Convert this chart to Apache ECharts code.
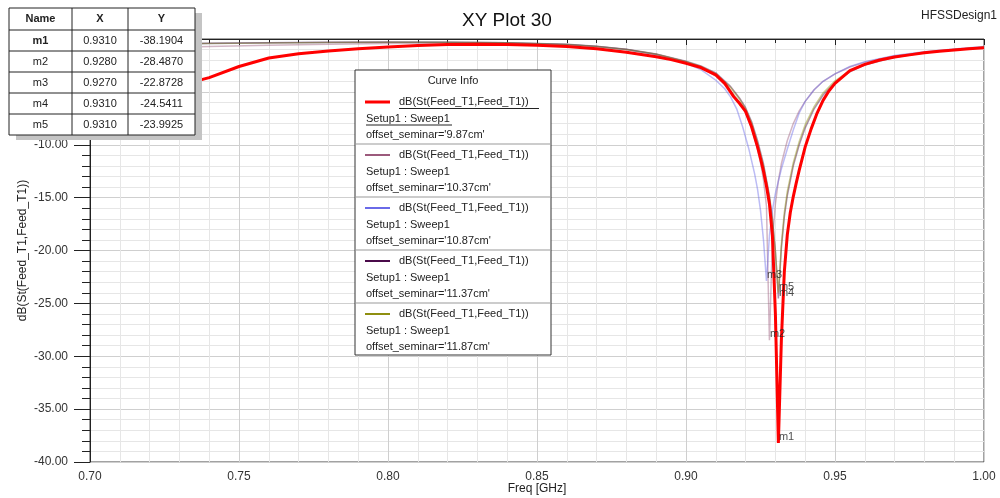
<!DOCTYPE html>
<html>
<head>
<meta charset="utf-8">
<script src="https://cdn.jsdelivr.net/npm/echarts@6/dist/echarts.min.js"></script>
<style>
html,body{margin:0;padding:0;background:#fff;}
#chart{width:1000px;height:498px;}
</style>
</head>
<body>
<div id="chart"></div>
<script>
// ---- Data ----
const seriesLabels = ["offset_seminar='9.87cm'", "offset_seminar='10.37cm'", "offset_seminar='10.87cm'", "offset_seminar='11.37cm'", "offset_seminar='11.87cm'"];
const seriesColors = ["#ff0000", "#9c5a7c", "#6a6ae8", "#4a0a4a", "#8f8f10"];

const freq987 = [0.700,0.710,0.720,0.730,0.740,0.750,0.760,0.770,0.780,0.790,0.800,0.810,0.820,0.830,0.840,0.850,0.860,0.870,0.880,0.890,0.895,0.900,0.905,0.910,0.913,0.916,0.918,0.920,0.922,0.924,0.925,0.926,0.927,0.928,0.929,0.930,0.931,0.932,0.933,0.934,0.935,0.936,0.937,0.938,0.940,0.942,0.944,0.946,0.948,0.950,0.955,0.960,0.965,0.970,0.975,0.980,0.985,0.990,0.995,1.000];
const db987   = [-5.9,-5.3,-4.8,-4.4,-3.65,-2.6,-1.8,-1.4,-1.14,-0.92,-0.76,-0.62,-0.52,-0.5,-0.52,-0.6,-0.72,-0.92,-1.25,-1.68,-1.95,-2.3,-2.7,-3.4,-4.2,-5.45,-6.1,-6.85,-8.3,-10.2,-11.3,-12.5,-13.9,-15.6,-18.6,-26.0,-38.1904,-28.5,-22.0,-18.5,-16.4,-14.9,-13.6,-12.4,-10.2,-8.5,-7.0,-5.8,-4.9,-4.2,-3.0,-2.4,-1.98,-1.7,-1.5,-1.3,-1.15,-1.03,-0.92,-0.82];

const freq1037 = [0.70,0.72,0.74,0.76,0.78,0.80,0.82,0.84,0.86,0.87,0.88,0.89,0.90,0.905,0.91,0.915,0.918,0.920,0.922,0.924,0.925,0.926,0.927,0.928,0.929,0.930,0.931,0.932,0.934,0.936,0.938,0.940,0.943,0.946,0.950,0.955,0.960,0.970,0.980,0.990,1.000];
const db1037   = [-0.95,-0.85,-0.72,-0.6,-0.5,-0.42,-0.38,-0.4,-0.55,-0.72,-1.0,-1.45,-2.15,-2.7,-3.5,-4.9,-6.0,-7.0,-8.4,-10.4,-11.7,-13.3,-15.8,-28.487,-19.0,-15.6,-13.4,-11.8,-9.6,-8.0,-6.8,-5.9,-4.8,-4.0,-3.3,-2.65,-2.2,-1.6,-1.25,-1.0,-0.78];

const freq1087 = [0.70,0.72,0.74,0.76,0.78,0.80,0.82,0.84,0.86,0.87,0.88,0.89,0.90,0.905,0.91,0.913,0.915,0.917,0.919,0.921,0.923,0.924,0.925,0.926,0.927,0.928,0.929,0.930,0.932,0.934,0.936,0.938,0.940,0.943,0.946,0.950,0.955,0.960,0.970,0.980,0.990,1.000];
const db1087   = [-0.6,-0.5,-0.42,-0.36,-0.32,-0.3,-0.31,-0.36,-0.52,-0.7,-1.0,-1.5,-2.3,-2.9,-3.9,-4.7,-5.5,-6.6,-8.3,-10.3,-12.7,-14.2,-16.2,-19.0,-22.8728,-18.6,-16.2,-14.6,-12.3,-10.4,-8.6,-7.0,-5.9,-4.8,-4.0,-3.3,-2.6,-2.15,-1.55,-1.2,-0.95,-0.72];

const freq1137 = [0.70,0.72,0.74,0.76,0.78,0.80,0.82,0.84,0.86,0.87,0.88,0.89,0.90,0.905,0.91,0.915,0.918,0.920,0.922,0.924,0.926,0.928,0.929,0.930,0.931,0.932,0.933,0.934,0.936,0.938,0.940,0.943,0.946,0.950,0.955,0.960,0.970,0.980,0.990,1.000];
const db1137   = [-0.55,-0.47,-0.4,-0.35,-0.31,-0.29,-0.3,-0.35,-0.5,-0.68,-0.98,-1.42,-2.1,-2.55,-3.2,-4.5,-5.6,-6.5,-7.8,-9.6,-11.8,-14.8,-17.0,-20.0,-24.5411,-19.8,-16.8,-14.8,-12.0,-10.0,-8.4,-6.6,-5.3,-4.1,-3.1,-2.45,-1.72,-1.3,-1.02,-0.8];

const freq1187 = [0.70,0.72,0.74,0.76,0.78,0.80,0.82,0.84,0.86,0.87,0.88,0.89,0.90,0.905,0.91,0.915,0.918,0.920,0.922,0.924,0.926,0.928,0.929,0.930,0.931,0.932,0.933,0.934,0.936,0.938,0.940,0.943,0.946,0.950,0.955,0.960,0.970,0.980,0.990,1.000];
const db1187   = [-0.58,-0.5,-0.42,-0.37,-0.33,-0.3,-0.31,-0.36,-0.52,-0.7,-1.0,-1.45,-2.15,-2.6,-3.3,-4.6,-5.7,-6.6,-7.95,-9.8,-12.0,-15.0,-17.2,-20.2,-23.9925,-19.4,-16.4,-14.4,-11.7,-9.7,-8.1,-6.4,-5.1,-3.95,-3.0,-2.38,-1.68,-1.28,-1.0,-0.78];

const markerNames = ["m1", "m2", "m3", "m4", "m5"];
const markerX = [0.9310, 0.9280, 0.9270, 0.9310, 0.9310];
const markerY = [-38.1904, -28.4870, -22.8728, -24.5411, -23.9925];

const xTickMin = 0.70, xTickMax = 1.00, xTickStep = 0.05;
const yTickMin = -40, yTickMax = 0, yTickStep = 5;

// ---- Build ----
const pairs = (f, d) => f.map((v, i) => [v, d[i]]);
const allData = [pairs(freq987, db987), pairs(freq1037, db1037), pairs(freq1087, db1087), pairs(freq1137, db1137), pairs(freq1187, db1187)];

const FONT = "Liberation Sans, Arial, sans-serif";
const series = [];
// draw faint curves first, red on top
[1, 2, 3, 4, 0].forEach(i => {
  series.push({
    type: 'line', name: seriesLabels[i], data: allData[i], showSymbol: false, smooth: false,
    lineStyle: { color: seriesColors[i], width: i === 0 ? 3 : 1.5, opacity: i === 0 ? 1 : 0.45 },
    z: i === 0 ? 5 : 3, silent: true
  });
});
series.push({
  type: 'scatter', data: markerX.map((x, i) => [x, markerY[i]]), symbolSize: 1,
  itemStyle: { color: 'rgba(0,0,0,0)' }, z: 6, silent: true,
  label: { show: true, position: [1, -11], formatter: p => markerNames[p.dataIndex], fontSize: 11, color: '#222', fontFamily: FONT }
});

// Marker table graphics
const tbl = [];
const tX = [9, 72, 128, 195];
const tY = [8, 30, 51, 72, 93, 114, 135];
tbl.push({ type: 'rect', shape: { x: tX[0] + 7, y: tY[0] + 5, width: tX[3] - tX[0], height: tY[6] - tY[0] }, style: { fill: '#c4c4c4' }, z: 100 });
tbl.push({ type: 'rect', shape: { x: tX[0], y: tY[0], width: tX[3] - tX[0], height: tY[6] - tY[0] }, style: { fill: '#fff', stroke: '#222', lineWidth: 1 }, z: 101 });
for (let r = 1; r < 6; r++) tbl.push({ type: 'line', shape: { x1: tX[0], y1: tY[r], x2: tX[3], y2: tY[r] }, style: { stroke: '#222', lineWidth: 1 }, z: 102 });
for (let c = 1; c < 3; c++) tbl.push({ type: 'line', shape: { x1: tX[c], y1: tY[0], x2: tX[c], y2: tY[6] }, style: { stroke: '#222', lineWidth: 1 }, z: 102 });
const header = ["Name", "X", "Y"];
const cellText = (txt, c, r, bold) => ({
  type: 'text', z: 103,
  style: { text: txt, x: (tX[c] + tX[c + 1]) / 2, y: (tY[r] + tY[r + 1]) / 2, textAlign: 'center', align: 'center', textVerticalAlign: 'middle', verticalAlign: 'middle', font: (bold ? 'bold ' : '') + '11px ' + FONT, fill: '#222' }
});
header.forEach((h, c) => tbl.push(cellText(h, c, 0, true)));
markerNames.forEach((m, i) => {
  tbl.push(cellText(m, 0, i + 1, i === 0));
  tbl.push(cellText(markerX[i].toFixed(4), 1, i + 1, false));
  tbl.push(cellText(markerY[i].toFixed(4), 2, i + 1, false));
});

// Curve Info legend graphics
const lg = [];
const lgX = 355, lgY = 70, lgW = 196, lgH = 285, step = 53;
lg.push({ type: 'rect', shape: { x: lgX, y: lgY, width: lgW, height: lgH }, style: { fill: '#fff', stroke: '#333', lineWidth: 1 }, z: 100 });
lg.push({ type: 'text', z: 101, style: { text: 'Curve Info', x: lgX + lgW / 2, y: 81, textAlign: 'center', align: 'center', textVerticalAlign: 'middle', verticalAlign: 'middle', font: '11px ' + FONT, fill: '#222' } });
seriesLabels.forEach((lab, i) => {
  const y0 = 102 + i * step;
  lg.push({ type: 'line', z: 101, shape: { x1: 365, y1: y0, x2: 390, y2: y0 }, style: { stroke: seriesColors[i], lineWidth: i === 0 ? 3 : 2 } });
  const t = (txt, x, y) => ({ type: 'text', z: 101, style: { text: txt, x: x, y: y, textAlign: 'left', align: 'left', textVerticalAlign: 'middle', verticalAlign: 'middle', font: '11px ' + FONT, fill: '#222' } });
  lg.push(t('dB(St(Feed_T1,Feed_T1))', 399, y0));
  lg.push(t('Setup1 : Sweep1', 366, y0 + 16.5));
  lg.push(t(lab, 366, y0 + 33));
  if (i === 0) {
    lg.push({ type: 'line', z: 101, shape: { x1: 399, y1: y0 + 6.5, x2: 539, y2: y0 + 6.5 }, style: { stroke: '#222', lineWidth: 1 } });
    lg.push({ type: 'line', z: 101, shape: { x1: 366, y1: y0 + 23, x2: 452, y2: y0 + 23 }, style: { stroke: '#222', lineWidth: 1 } });
  }
  if (i < 4) lg.push({ type: 'line', z: 101, shape: { x1: lgX, y1: y0 + 42, x2: lgX + lgW, y2: y0 + 42 }, style: { stroke: '#999', lineWidth: 1 } });
});

const chart = echarts.init(document.getElementById('chart'), null, { renderer: 'canvas' });
chart.setOption({
  animation: false,
  backgroundColor: '#ffffff',
  textStyle: { fontFamily: FONT },
  title: { text: 'XY Plot 30', left: 457, top: 6, textStyle: { fontSize: 19, fontWeight: 'normal', color: '#111', fontFamily: FONT } },
  grid: { left: 90, right: 16, top: 39, bottom: 36, containLabel: false, outerBoundsMode: 'none', show: true, borderColor: '#444', borderWidth: 1, backgroundColor: '#fff' },
  xAxis: {
    type: 'value', min: xTickMin, max: xTickMax, interval: xTickStep,
    name: 'Freq [GHz]', nameLocation: 'middle', nameGap: 21, nameMoveOverlap: false,
    nameTextStyle: { fontSize: 12, color: '#222', fontFamily: FONT },
    axisLine: { lineStyle: { color: '#222', width: 1 } },
    axisTick: { show: true, length: 6, lineStyle: { color: '#222' } },
    minorTick: { show: true, splitNumber: 5, length: 4, lineStyle: { color: '#222' } },
    splitLine: { show: true, lineStyle: { color: '#cfcfcf', width: 1 } },
    minorSplitLine: { show: true, lineStyle: { color: '#e6e6e6', width: 1 } },
    axisLabel: { fontSize: 12, color: '#333', margin: 9, formatter: v => v.toFixed(2), showMinLabel: true, showMaxLabel: true }
  },
  yAxis: {
    type: 'value', min: yTickMin, max: yTickMax, interval: yTickStep,
    name: 'dB(St(Feed_T1,Feed_T1))', nameLocation: 'middle', nameGap: 61, nameMoveOverlap: false,
    nameTextStyle: { fontSize: 12, color: '#222', fontFamily: FONT },
    axisLine: { show: true, lineStyle: { color: '#222', width: 1 } },
    axisTick: { show: true, length: 16, lineStyle: { color: '#222' } },
    minorTick: { show: true, splitNumber: 5, length: 8, lineStyle: { color: '#222' } },
    splitLine: { show: true, lineStyle: { color: '#cfcfcf', width: 1 } },
    minorSplitLine: { show: true, lineStyle: { color: '#e6e6e6', width: 1 } },
    axisLabel: { fontSize: 12, color: '#333', margin: 22, formatter: v => v.toFixed(2) }
  },
  series: series,
  graphic: [
    { type: 'text', z: 100, style: { text: 'HFSSDesign1', x: 997, y: 16, textAlign: 'right', align: 'right', textVerticalAlign: 'middle', verticalAlign: 'middle', font: '12px ' + FONT, fill: '#222' } }
  ].concat(tbl, lg)
});
</script>
</body>
</html>
